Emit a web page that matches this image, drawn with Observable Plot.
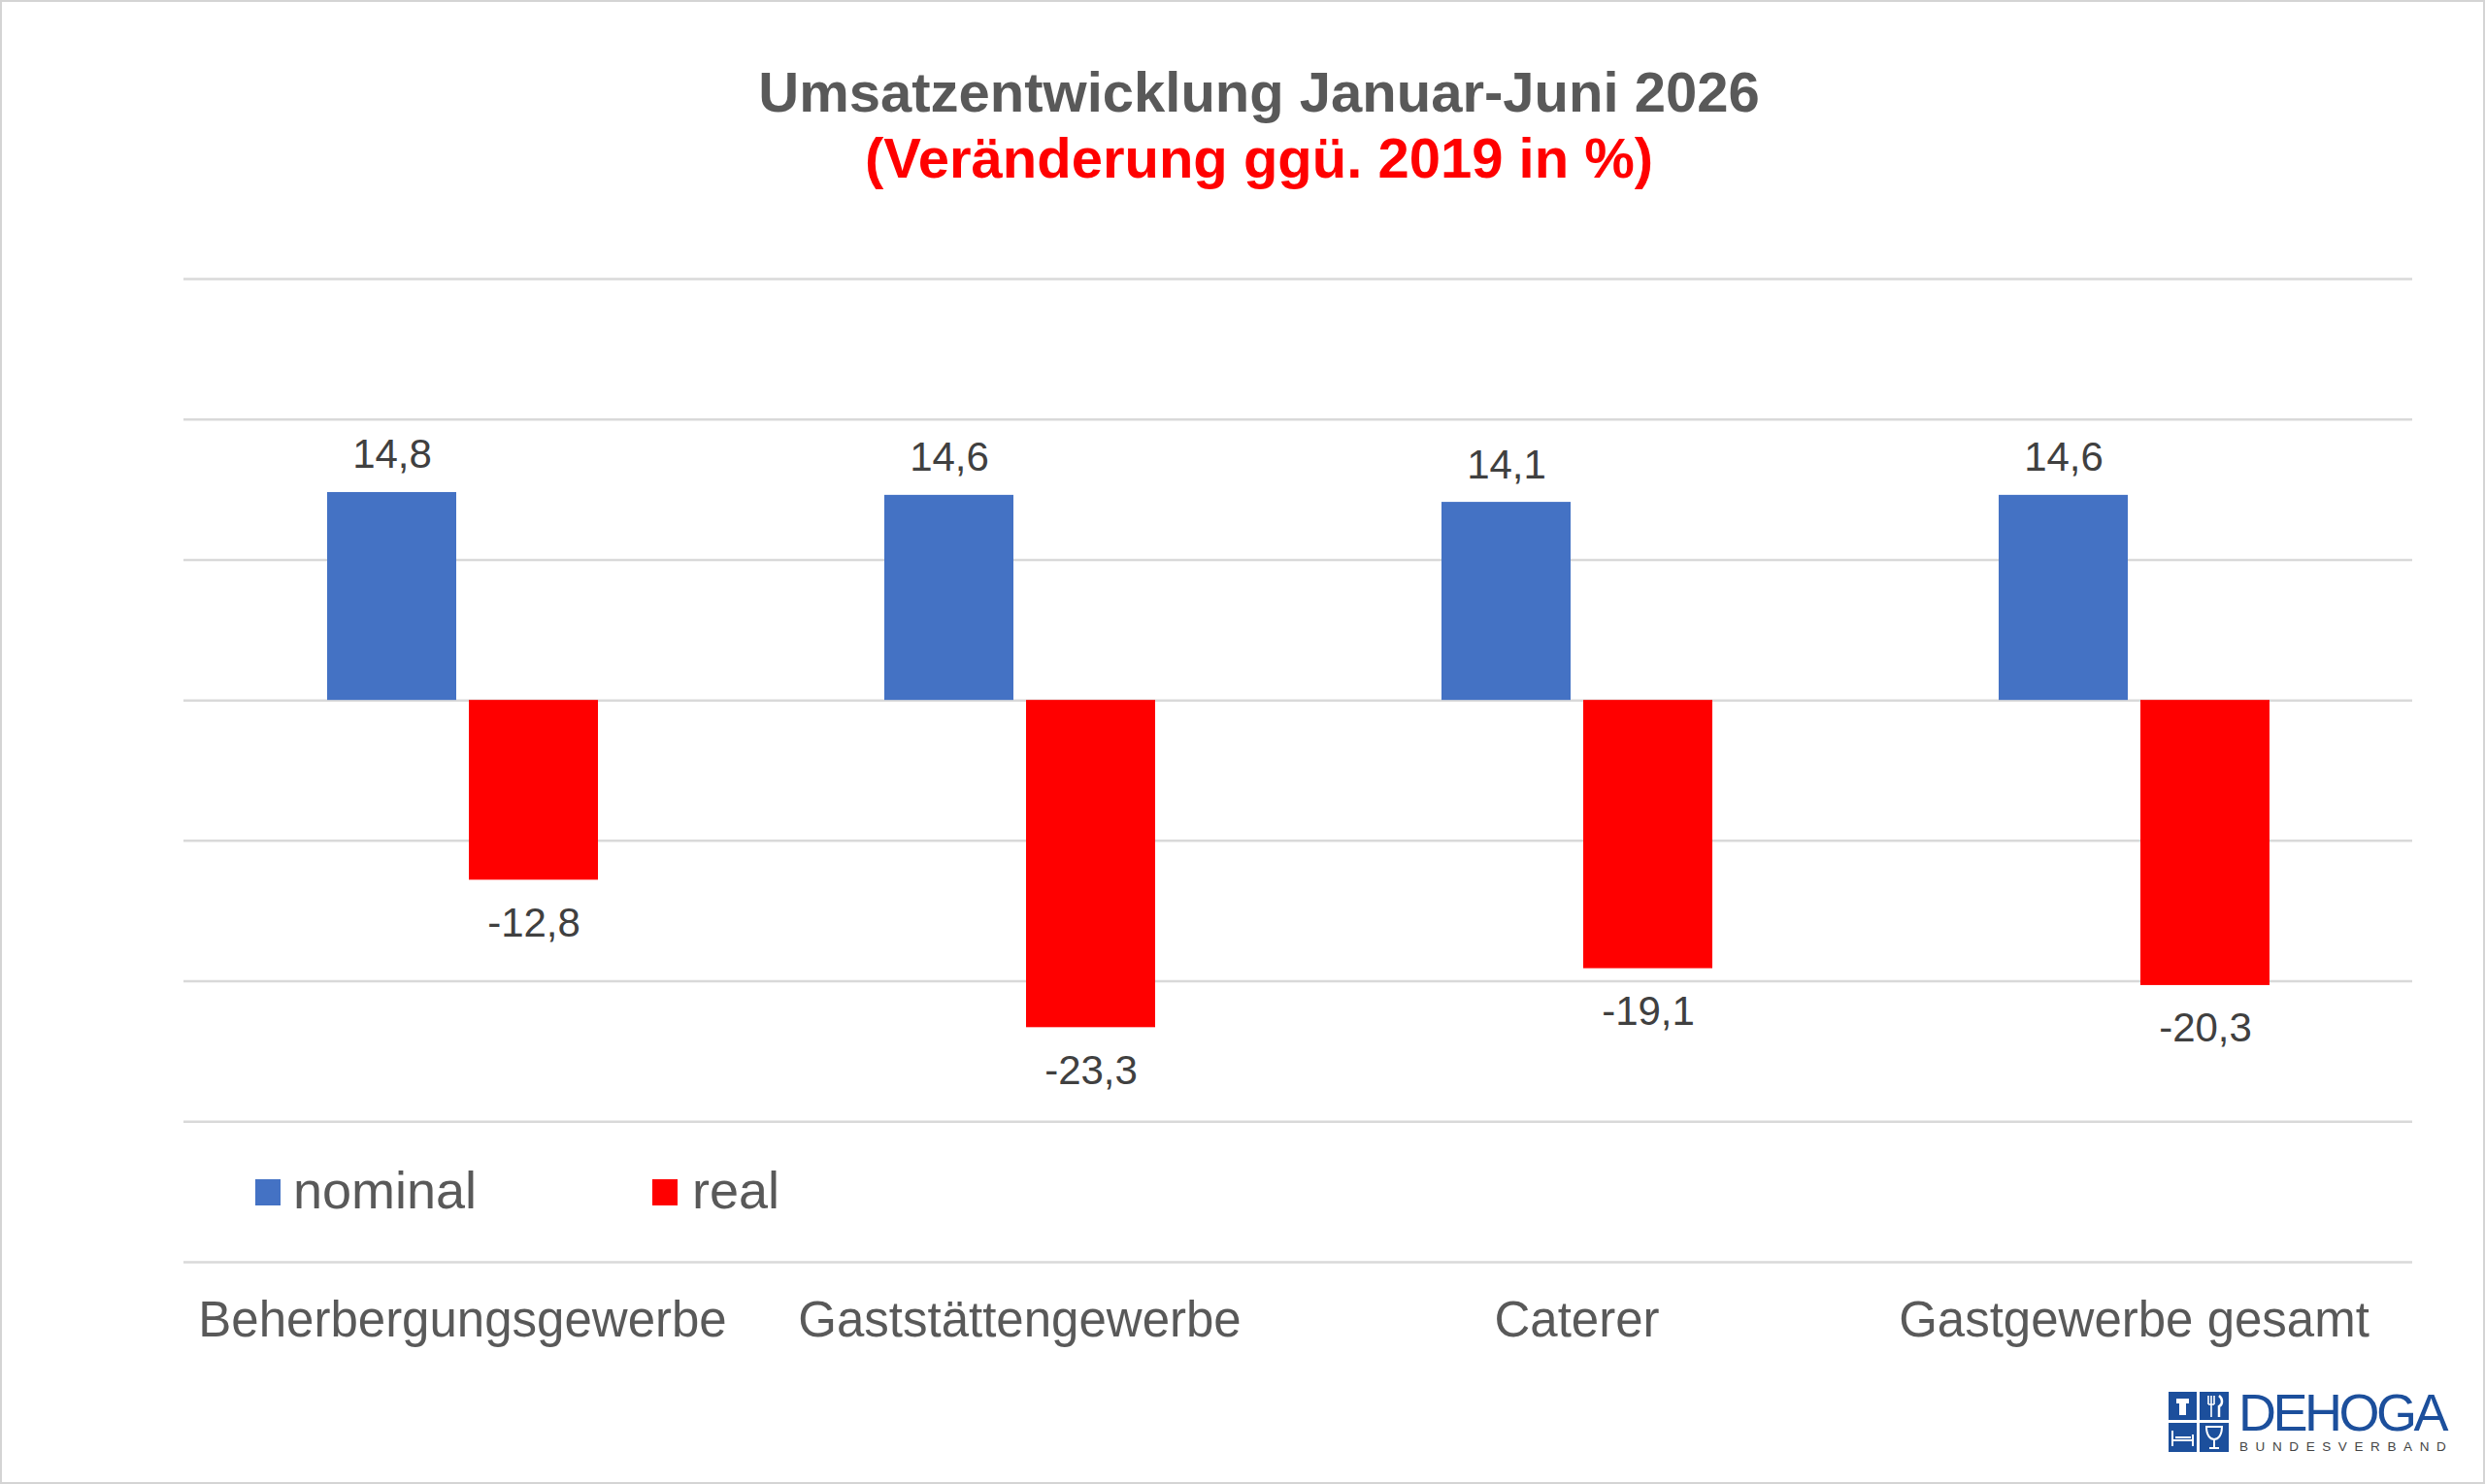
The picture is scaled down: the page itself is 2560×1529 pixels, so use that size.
<!DOCTYPE html>
<html>
<head>
<meta charset="utf-8">
<script src="https://cdn.jsdelivr.net/npm/d3@7"></script>
<script src="https://cdn.jsdelivr.net/npm/@observablehq/plot@0.6"></script>
<style>
  html, body { margin: 0; padding: 0; background: #fff; }
  #frame {
    position: relative; width: 2560px; height: 1529px; box-sizing: border-box;
    box-shadow: inset 0 0 0 2px #d4d4d4; overflow: hidden; background: #fff;
    font-family: "Liberation Sans", Arial, sans-serif;
  }
  .title { position: absolute; left: 234px; width: 2126px; text-align: center;
    font-weight: bold; font-size: 58px; line-height: 58px; white-space: nowrap; }
  #chart { position: absolute; left: 0; top: 0; }
  .sw { position: absolute; width: 26px; height: 27px; }
  .lg { position: absolute; font-size: 54px; line-height: 54px; color: #595959; white-space: nowrap; }
  #logo-text { position: absolute; left: 2306px; top: 1428px; font-size: 54px; line-height: 54px;
    color: #1c4f9c; letter-spacing: -3.5px; white-space: nowrap; }
  #logo-sub { position: absolute; left: 2307px; top: 1484px; font-size: 13.5px; line-height: 13.5px;
    color: #444; letter-spacing: 7.6px; white-space: nowrap; }
  #logo-icon { position: absolute; left: 2234px; top: 1434px; }
</style>
</head>
<body>
<div id="frame">
  <div class="title" style="top:66px; color:#595959;">Umsatzentwicklung Januar-Juni 2026</div>
  <div class="title" style="top:134px; color:#ff0000;">(Veränderung ggü. 2019 in %)</div>
  <div id="chart"></div>
  <div class="sw" style="left:263px; top:1215px; background:#4472c4;"></div>
  <div class="lg" style="left:302px; top:1199px;">nominal</div>
  <div class="sw" style="left:672px; top:1215px; background:#ff0000;"></div>
  <div class="lg" style="left:713px; top:1199px;">real</div>
  <svg id="logo-icon" width="62" height="62" viewBox="0 0 62 62">
    <rect x="0" y="0" width="29" height="29" fill="#1c4f9c"/>
    <rect x="32" y="0" width="30" height="29" fill="#1c4f9c"/>
    <rect x="0" y="32" width="29" height="30" fill="#1c4f9c"/>
    <rect x="32" y="32" width="30" height="30" fill="#1c4f9c"/>
    <path d="M8 7 h13 v5 h-3 v12 h-7 v-12 h-3 z" fill="#fff"/>
    <path d="M41 4 v9 M44 4 v9 M47 4 v9 M41 13 h6 M44 13 v13" stroke="#fff" stroke-width="1.6" fill="none"/>
    <path d="M52 4 c4 3 4 9 0 11 v11" stroke="#fff" stroke-width="2.5" fill="none"/>
    <path d="M4 40 v16 M25 44 v12 M4 50 h21 M7 47 h16" stroke="#fff" stroke-width="2" fill="none"/>
    <path d="M39 36 h16 c0 9 -4 13 -8 13 c-4 0 -8 -4 -8 -13 z M47 49 v8 M42 58 h10" stroke="#fff" stroke-width="2" fill="none"/>
  </svg>
  <div id="logo-text">DEHOGA</div>
  <div id="logo-sub">BUNDESVERBAND</div>
</div>
<script>
const categories = ["Beherbergungsgewerbe", "Gaststättengewerbe", "Caterer", "Gastgewerbe gesamt"];
const series = ["nominal", "real"];
const nominalValues = [14.8, 14.6, 14.1, 14.6];
const realValues = [-12.8, -23.3, -19.1, -20.3];
const yTicks = [30, 20, 10, 0, -10, -20, -30, -40];
const colors = ["#4472c4", "#ff0000"];

const rows = [];
categories.forEach((c, i) => {
  rows.push({category: c, series: "nominal", value: nominalValues[i]});
  rows.push({category: c, series: "real", value: realValues[i]});
});
const fmt = v => v.toFixed(1).replace(".", ",");

const chart = Plot.plot({
  width: 2560,
  height: 1420,
  marginTop: 287,
  marginBottom: 120,
  marginLeft: 189,
  marginRight: 75,
  style: {fontSize: "51px", fontFamily: "'Liberation Sans', Arial, sans-serif", color: "#595959", background: "transparent", overflow: "visible"},
  facet: {data: rows, x: "category"},
  fx: {domain: categories, padding: 0, label: null, axis: "bottom", tickSize: 0, tickPadding: 40},
  x: {domain: series, paddingInner: 0.09, paddingOuter: 1, axis: null},
  y: {domain: [-40, 30], axis: null},
  color: {domain: series, range: colors},
  marks: [
    Plot.ruleY(yTicks, {stroke: "#d9d9d9", strokeWidth: 2.5}),
    Plot.barY(rows, {x: "series", y: "value", fill: "series"}),
    Plot.text(rows, {filter: d => d.value >= 0, x: "series", y: "value", text: d => fmt(d.value),
      lineAnchor: "bottom", dy: -25, fontSize: 42, fill: "#404040"}),
    Plot.text(rows, {filter: d => d.value < 0, x: "series", y: "value", text: d => fmt(d.value),
      lineAnchor: "top", dy: 28, fontSize: 42, fill: "#404040"})
  ]
});
document.getElementById("chart").appendChild(chart);
</script>
</body>
</html>
